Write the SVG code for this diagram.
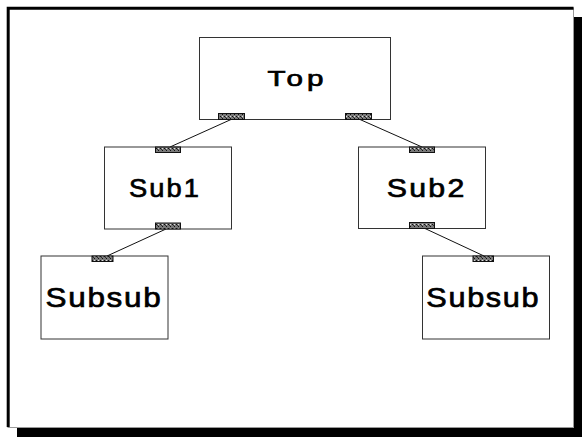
<svg xmlns="http://www.w3.org/2000/svg" width="582" height="443" viewBox="0 0 582 443">
  <defs>
    <pattern id="hatch" width="4" height="4" patternUnits="userSpaceOnUse">
      <rect width="4" height="4" fill="#7a7a7a"/>
      <rect x="0" y="0" width="1" height="1" fill="#111"/>
      <rect x="2" y="2" width="1" height="1" fill="#111"/>
      <rect x="1" y="1" width="1" height="1" fill="#333"/>
      <rect x="2" y="0" width="1" height="1" fill="#ddd"/>
    </pattern>
  </defs>
  <style>
    .box { fill: #fff; stroke: #333; stroke-width: 1; }
    .port { fill: url(#hatch); stroke: #111; stroke-width: 1; }
    .lbl { font-family: "Liberation Sans", Arial, sans-serif; font-weight: normal; fill: #000; stroke: #000; stroke-width: 0.7; text-anchor: middle; }
    .wire { stroke: #111; stroke-width: 1; fill: none; }
  </style>

  <!-- page frame with drop shadow -->
  <rect x="17" y="17" width="565" height="420" fill="#000"/>
  <rect x="8" y="8" width="565.5" height="419.5" fill="#fff" stroke="#999" stroke-width="1"/>
  <polyline points="8.2,427 8.2,8.2 573.5,8.2" fill="none" stroke="#000" stroke-width="3"/>

  <g id="connectors">
    <line class="wire" x1="231" y1="119.5" x2="170" y2="147"/>
    <line class="wire" x1="360" y1="119.5" x2="422" y2="147"/>
    <line class="wire" x1="166" y1="229" x2="107" y2="256"/>
    <line class="wire" x1="425" y1="228.5" x2="484" y2="256"/>
  </g>

  <g id="top">
    <rect class="box" x="199.5" y="37.5" width="191" height="82"/>
    <text class="lbl" x="297.5" y="86" font-size="21.5" letter-spacing="3" textLength="60" lengthAdjust="spacingAndGlyphs">Top</text>
    <rect class="port" x="218.5" y="113.5" width="26" height="6"/>
    <rect class="port" x="345.5" y="113.5" width="26" height="6"/>
  </g>

  <g id="sub1">
    <rect class="box" x="104.5" y="147" width="127" height="82"/>
    <text class="lbl" x="165" y="197" font-size="26" letter-spacing="2" textLength="72" lengthAdjust="spacingAndGlyphs">Sub1</text>
    <rect class="port" x="155.5" y="147" width="25" height="5.5"/>
    <rect class="port" x="155.5" y="223" width="25" height="6"/>
  </g>

  <g id="sub2">
    <rect class="box" x="358.5" y="147" width="127" height="81.5"/>
    <text class="lbl" x="426.7" y="197" font-size="26" letter-spacing="2" textLength="80" lengthAdjust="spacingAndGlyphs">Sub2</text>
    <rect class="port" x="409.5" y="147" width="25" height="5.5"/>
    <rect class="port" x="409.5" y="222.5" width="25" height="6"/>
  </g>

  <g id="subsub1">
    <rect class="box" x="41" y="256" width="127" height="83"/>
    <text class="lbl" x="104" y="306.7" font-size="27.5" letter-spacing="1.5" textLength="117" lengthAdjust="spacingAndGlyphs">Subsub</text>
    <rect class="port" x="92" y="256" width="21" height="5.5"/>
  </g>

  <g id="subsub2">
    <rect class="box" x="422.5" y="256" width="127" height="83"/>
    <text class="lbl" x="483.3" y="306.5" font-size="27.5" letter-spacing="1.5" textLength="114" lengthAdjust="spacingAndGlyphs">Subsub</text>
    <rect class="port" x="473" y="256" width="20.5" height="5.5"/>
  </g>
</svg>
